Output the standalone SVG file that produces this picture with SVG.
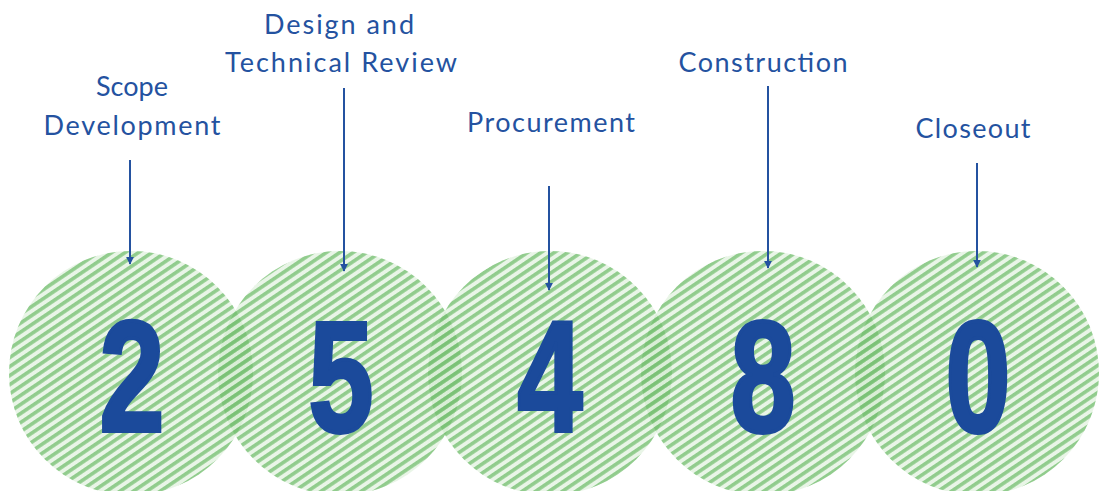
<svg xmlns="http://www.w3.org/2000/svg" width="1110" height="491" viewBox="0 0 1110 491">
<style>
.lbl{font-family:Lato,"Open Sans","Liberation Sans",sans-serif;font-size:27px;fill:#2452a0;text-anchor:middle;font-weight:400}
.num{font-family:"Liberation Sans",Arial,sans-serif;font-weight:bold;font-size:158px;fill:#1b4a9b;stroke:#1b4a9b;stroke-width:4;stroke-linejoin:miter;stroke-miterlimit:4;text-anchor:middle}
.base{fill:#b5deb0;fill-opacity:0.3}
.str{fill:url(#stripes)}
.arrow{stroke:#2452a0;stroke-width:2;fill:none;marker-end:url(#ah)}
</style>
<defs>
<pattern id="stripes" patternUnits="userSpaceOnUse" width="7.5" height="7.5" patternTransform="rotate(-34)">
<rect x="0" y="0" width="7.5" height="3.6" fill="#6fbd6b" fill-opacity="0.72"/>
</pattern>
<marker id="ah" viewBox="0 0 10 10" refX="9" refY="5" markerWidth="4" markerHeight="4" orient="auto" markerUnits="strokeWidth">
<path d="M0,0 L10,5 L0,10 Z" fill="#2452a0"/>
</marker>
</defs>
<rect width="1110" height="491" fill="#ffffff"/>
<g id="node-scope">
<circle class="base" cx="131" cy="373" r="122"/>
<circle class="str" cx="131" cy="373" r="122"/>
<text class="num" transform="translate(132 431) scale(0.74 1)">2</text>
<text class="lbl" x="132" y="96">Scope</text>
<text class="lbl" x="132" y="135" textLength="177" lengthAdjust="spacing">Development</text>
</g>
<g id="node-design">
<circle class="base" cx="340" cy="373" r="122"/>
<circle class="str" cx="340" cy="373" r="122"/>
<text class="num" transform="translate(341 431) scale(0.74 1)">5</text>
<text class="lbl" x="339" y="34" textLength="150" lengthAdjust="spacing">Design and</text>
<text class="lbl" x="341" y="72" textLength="232" lengthAdjust="spacing">Technical Review</text>
</g>
<g id="node-procurement">
<circle class="base" cx="550" cy="373" r="122"/>
<circle class="str" cx="550" cy="373" r="122"/>
<text class="num" transform="translate(550 431) scale(0.74 1)">4</text>
<text class="lbl" x="551" y="132" textLength="168" lengthAdjust="spacing">Procurement</text>
</g>
<g id="node-construction">
<circle class="base" cx="763" cy="373" r="122"/>
<circle class="str" cx="763" cy="373" r="122"/>
<text class="num" transform="translate(763 431) scale(0.74 1)">8</text>
<text class="lbl" x="763" y="72" textLength="169" lengthAdjust="spacing">Construction</text>
</g>
<g id="node-closeout">
<circle class="base" cx="977" cy="373" r="122"/>
<circle class="str" cx="977" cy="373" r="122"/>
<text class="num" transform="translate(978 431) scale(0.74 1)">0</text>
<text class="lbl" x="973" y="138" textLength="115" lengthAdjust="spacing">Closeout</text>
</g>
<g id="connectors">
<line class="arrow" x1="130" y1="160" x2="130" y2="264"/>
<line class="arrow" x1="344" y1="88" x2="344" y2="271"/>
<line class="arrow" x1="549" y1="186" x2="549" y2="290"/>
<line class="arrow" x1="768" y1="86" x2="768" y2="268"/>
<line class="arrow" x1="977" y1="163" x2="977" y2="267"/>
</g>
</svg>
